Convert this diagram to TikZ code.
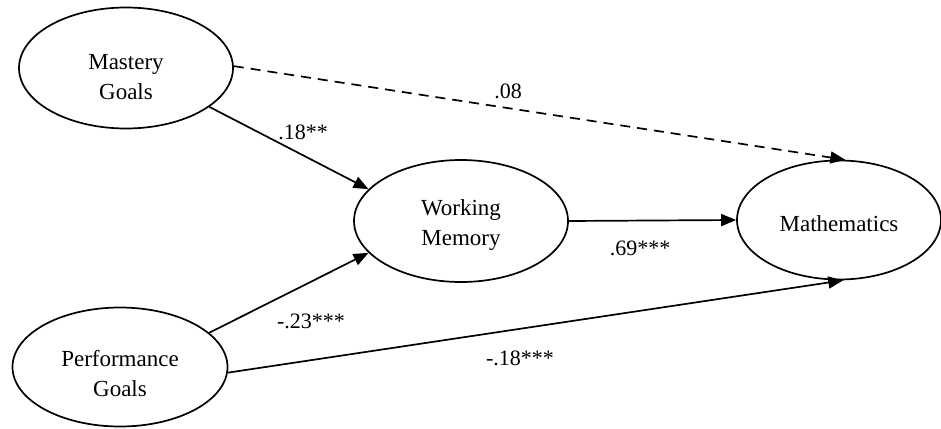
\documentclass[tikz,border=0pt]{standalone}
\usepackage{fontspec}
\setmainfont{Liberation Serif}
\usetikzlibrary{shapes.geometric,arrows.meta}
\tikzset{
  var/.style={draw, ellipse, line width=1.7pt, inner sep=0pt},
  vtext/.style={align=center, inner sep=0pt, font=\fontsize{23}{30}\selectfont},
  path/.style={line width=1.7pt, -{Triangle[length=15pt,width=12pt]}},
  coef/.style={font=\fontsize{22}{26}\selectfont, inner sep=0pt}
}
\begin{document}
\begin{tikzpicture}[x=1pt,y=-1pt]
\useasboundingbox (0,0) rectangle (941,428);
\node[var, minimum width=214pt, minimum height=121pt] (mg) at (126,68) {};
\node[var, minimum width=215pt, minimum height=119pt] (pg) at (120,367) {};
\node[var, minimum width=214pt, minimum height=122pt] (wm) at (461,221) {};
\node[var, minimum width=204pt, minimum height=119pt] (ma) at (839,220) {};
\node[vtext] (mgt) at ([yshift=-9pt]mg.center) {Mastery\\Goals};
\node[vtext] (pgt) at ([yshift=-7pt]pg.center) {Performance\\Goals};
\node[vtext] (wmt) at ([yshift=-4pt]wm.center) {Working\\Memory};
\node[vtext] (mat) at ([yshift=-4pt]ma.center) {Mathematics};

\draw[path, dashed, dash pattern=on 10pt off 7pt] (mg.1) -- (ma.84);
\draw[path] (mg.-25) -- (wm.161);
\draw[path] (pg.21) -- (wm.199);
\draw[path] (wm.east) -- (ma.west);
\draw[path] (pg.-3) -- (ma.-86);

\node[coef] (l08) at (508,91) {.08};
\node[coef] (l18) at (303,132) {.18**};
\node[coef] (l69) at (640,248) {.69***};
\node[coef] (l23) at (311,321) {-.23***};
\node[coef] (lm18) at (520,358) {-.18***};
\end{tikzpicture}
\end{document}
